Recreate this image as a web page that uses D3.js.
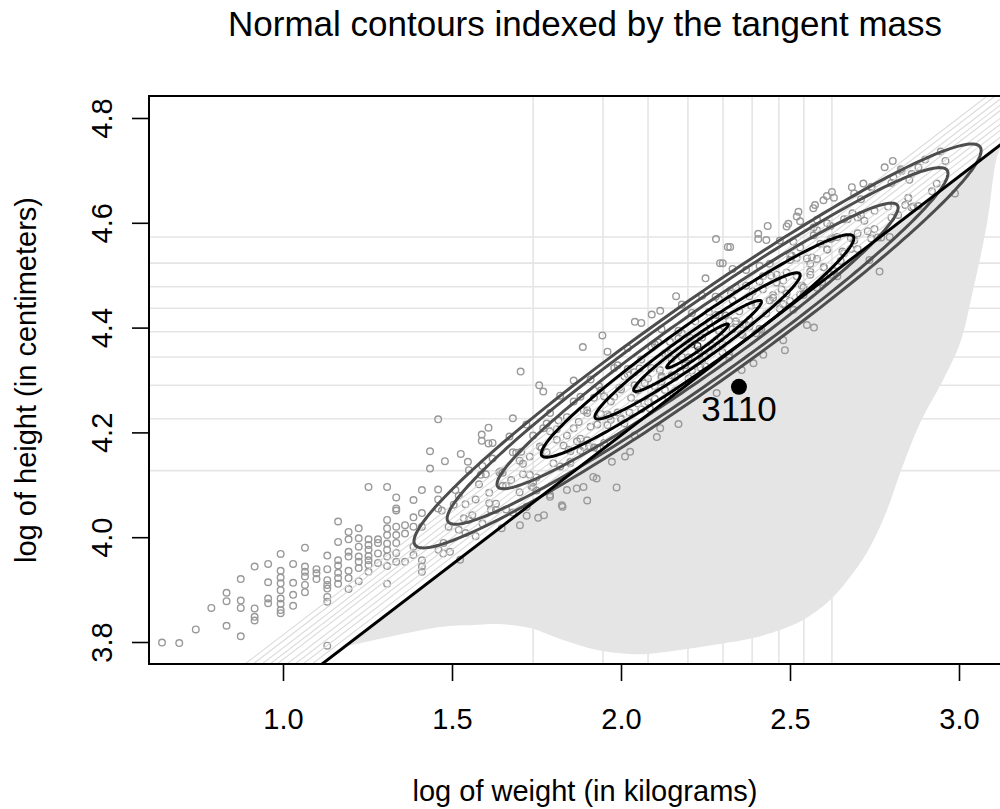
<!DOCTYPE html>
<html>
<head>
<meta charset="utf-8">
<script src="https://cdn.jsdelivr.net/npm/d3@7"></script>
<style>
  html, body { margin: 0; padding: 0; background: #fff; }
  svg { display: block; font-family: "Liberation Sans", Arial, Helvetica, sans-serif; }
</style>
</head>
<body>
<svg id="chart" width="1000" height="809"></svg>
<script>
// ---- data -------------------------------------------------------------
const xTicks = [1.0, 1.5, 2.0, 2.5, 3.0];
const yTicks = [3.8, 4.0, 4.2, 4.4, 4.6, 4.8];

// deciles of log weight and log height
const weightDeciles = [1.740, 1.947, 2.080, 2.198, 2.302, 2.388, 2.467, 2.541, 2.624];
const heightDeciles = [4.127, 4.226, 4.290, 4.344, 4.392, 4.437, 4.478, 4.523, 4.573];

// parallel lines (common slope) and the tangent line
const lineSlope = 0.4936;
const lineIntercepts = [3.3199, 3.3082, 3.2951, 3.2834, 3.2732, 3.2586, 3.2469, 3.2352, 3.2220];
const tangentIntercept = 3.2074;

// fitted bivariate normal
const normalMean = [2.2265, 4.365];
const normalSd = [0.3607, 0.1657];
const normalRho = 0.9673;
const tailMass = [0.01, 0.02, 0.05, 0.1, 0.2, 0.3, 0.4];
const contourZ = [2.326, 2.054, 1.645, 1.282, 0.842, 0.524, 0.253];
const contourColor = ["#4d4d4d", "#4d4d4d", "#4d4d4d", "#000000", "#000000", "#000000", "#000000"];

// lower edge of the shaded tangent-mass region
const massX = [1.1805, 1.4646, 1.5622, 1.6332, 1.7309, 1.8285, 1.9291, 2.0268, 2.0771, 2.1747, 2.2724, 2.3907, 2.4706, 2.5387, 2.6186, 2.6866, 2.7369, 2.7872, 2.8257, 2.8849, 2.9529, 3.0032, 3.0417, 3.0831, 3.1127, 3.1334];
const massY = [3.7905, 3.8286, 3.8324, 3.8343, 3.8267, 3.8038, 3.7847, 3.7771, 3.7771, 3.7847, 3.7943, 3.8076, 3.8229, 3.8420, 3.8801, 3.9317, 3.9813, 4.0519, 4.1225, 4.2179, 4.2999, 4.3705, 4.4716, 4.5995, 4.7254, 4.7560];

// highlighted observation
const flagged = { id: "3110", logWeight: 2.349, logHeight: 4.287 };

// observations: log weight (kg), log height (cm)
const logWeight = [
  0.642,0.693,0.742,0.788,0.833,0.833,0.833,0.875,0.875,0.875,0.875,0.916,0.916,0.916,0.916,
  0.956,0.956,0.956,0.956,0.993,0.993,0.993,0.993,0.993,0.993,0.993,0.993,0.993,
  1.030,1.030,1.030,1.030,1.065,1.065,1.065,1.065,1.065,1.065,1.099,1.099,1.099,
  1.131,1.131,1.131,1.131,1.131,1.131,1.131,1.131,1.163,1.163,1.163,1.163,1.163,1.163,1.163,
  1.194,1.194,1.194,1.194,1.194,1.194,1.194,1.224,1.224,1.224,1.224,1.224,1.224,1.224,
  1.253,1.253,1.253,1.253,1.253,1.253,1.253,1.253,1.281,1.281,1.281,1.281,
  1.308,1.308,1.308,1.308,1.308,1.308,1.308,1.308,1.308,1.335,1.335,1.335,1.335,1.335,1.335,1.335,1.335,
  1.361,1.361,1.361,1.386,1.386,1.386,1.386,1.386,1.411,1.411,1.411,1.411,1.411,1.411,
  1.435,1.435,1.459,1.459,1.459,1.459,
  1.608,1.588,1.588,1.608,1.526,1.479,1.547,1.987,1.900,1.825,1.827,1.772,1.755,1.721,1.701,1.647,
  1.494,1.474,1.460,1.524,2.106,2.116,2.170,2.283,2.027,2.012,1.973,1.918,1.928,1.869,1.889,1.840,1.790,1.721,
  2.281,2.316,2.301,2.250,2.163,2.116,2.091,2.041,1.945,1.887,1.703,1.758,
  2.804,2.946,2.828,2.880,2.853,2.806,2.934,2.988,2.717,2.742,2.683,2.624,2.609,2.599,2.574,2.569,
  2.525,2.520,2.495,2.490,2.434,2.406,2.406,2.323,2.765,2.735,2.795,2.850,2.841,2.865,
  2.571,2.550,2.485,2.480,2.421,2.392,2.357,2.293,
  1.47,1.49,1.51,1.52,1.54,1.55,1.56,1.58,1.59,1.61,1.62,1.63,1.65,1.66,1.67,1.69,1.70,1.71,1.73,1.74,
  1.75,1.76,1.78,1.79,1.80,1.81,1.83,1.84,1.85,1.86,1.87,1.88,1.89,1.90,1.91,1.92,1.93,1.94,1.95,1.96,
  1.97,1.98,1.99,2.00,2.01,2.02,2.03,2.04,2.05,2.06,2.07,2.08,2.09,2.10,2.11,2.12,2.13,2.14,2.15,2.16,
  2.17,2.18,2.19,2.20,2.21,2.22,2.23,2.24,2.25,2.26,2.27,2.28,2.29,2.30,2.31,2.32,2.33,2.34,2.35,2.36,
  2.37,2.38,2.39,2.40,2.41,2.42,2.43,2.44,2.45,2.46,2.47,2.48,2.49,2.50,2.51,2.52,2.53,2.54,2.55,2.56,
  2.57,2.58,2.59,2.60,2.61,2.62,2.63,2.64,2.66,2.67,2.68,2.70,2.71,2.73,2.75,2.77,2.79,2.82,2.85,2.88,
  1.815,1.845,1.875,1.905,1.935,1.965,1.995,2.025,2.055,2.085,2.115,2.145,2.175,2.205,2.235,2.265,
  2.295,2.325,2.355,2.385,2.415,2.445,2.475,2.505,2.535,2.565,2.595,2.625,2.655,2.685,
  1.585,1.615,1.645,1.675,1.705,1.735,1.765,1.535,1.505,1.475,
  1.62,1.68,1.72,1.77,1.82,1.86,1.91,1.96,2.02,2.06,2.12,2.18,2.24,2.33,2.37,2.43,2.47,2.53,2.58,2.63,
  2.69,2.74,2.78,2.83,2.90,2.96,2.92,1.99,2.09,2.21,2.29,2.41,2.51,2.61,2.71,2.86,
  1.57,1.63,1.68,1.74,1.79,1.85,1.90,1.95,2.00,2.04,2.10,2.15,2.20,2.26,2.32,2.38,2.44,2.50,2.56,2.62,
  2.68,2.74,2.80,2.86,1.88,2.12,2.34,2.58,2.70,
  1.52,1.54,1.57,1.59,1.61,1.64,1.66,1.68,1.71,1.73,1.75,1.77,1.79,1.82,1.84,1.86,1.88,1.90,1.92,1.94,
  1.96,1.98,2.00,2.02,2.04,2.06,2.08,2.10,2.12,2.14,2.16,2.18,2.20,2.22,2.24,2.26,2.28,2.30,2.32,2.34,
  2.36,2.38,2.40,2.42,2.44,2.46,2.48,2.50,2.52,2.54,2.56,2.58,2.60,2.62,2.64,2.66,2.69,2.72,2.76,2.80,
  1.55,1.60,1.65,1.70,1.74,1.78,1.81,1.85,1.89,1.93,1.97,2.01,2.05,2.09,2.13,2.17,2.21,2.25,2.29,2.33,
  2.37,2.41,2.45,2.49,2.53,2.57,2.61,2.65,2.70,2.75
];
const logHeight = [
  3.799,3.798,3.824,3.865,3.831,3.878,3.894,3.811,3.865,3.879,3.920,3.841,3.848,3.864,3.944,
  3.949,3.914,3.883,3.874,3.968,3.936,3.923,3.912,3.899,3.883,3.873,3.861,3.855,
  3.949,3.913,3.890,3.869,3.980,3.944,3.934,3.925,3.909,3.895,3.939,3.931,3.920,
  3.965,3.939,3.918,3.909,3.902,3.886,3.877,3.793,4.030,3.991,3.956,3.946,3.932,3.922,3.911,
  4.010,3.996,3.972,3.963,3.936,3.922,3.901,4.017,3.998,3.982,3.963,3.953,3.941,3.916,
  4.096,3.996,3.985,3.976,3.964,3.956,3.947,3.934,3.996,3.989,3.969,3.951,
  4.096,4.033,4.017,4.004,3.988,3.976,3.963,3.945,3.911,4.076,4.055,4.051,4.020,4.004,3.989,3.970,3.953,
  4.023,4.007,3.953,4.071,4.038,4.020,3.982,3.966,4.090,4.046,4.020,3.956,3.944,3.934,
  4.164,4.131,4.225,4.091,4.072,4.055,
  4.209,4.196,4.184,4.179,4.159,4.145,4.144,4.095,4.070,4.061,4.058,4.042,4.037,4.041,4.023,4.017,
  3.972,3.969,3.976,3.957,4.191,4.208,4.216,4.275,4.163,4.154,4.144,4.115,4.112,4.093,4.096,4.090,4.077,4.058,
  4.569,4.554,4.523,4.494,4.460,4.432,4.425,4.411,4.385,4.363,4.316,4.290,
  4.718,4.736,4.702,4.706,4.682,4.687,4.675,4.656,4.675,4.669,4.668,4.659,4.651,4.643,4.634,4.628,
  4.621,4.612,4.598,4.593,4.594,4.579,4.569,4.554,4.507,4.529,4.573,4.647,4.634,4.631,
  4.400,4.405,4.357,4.376,4.348,4.332,4.319,4.523,
  4.051,4.020,4.090,4.014,4.063,4.128,4.042,4.101,4.026,4.085,4.150,4.064,4.123,4.098,4.192,4.161,4.086,4.140,4.119,4.194,
  4.089,4.173,4.162,4.237,4.141,4.206,4.175,4.229,4.144,4.208,4.183,4.268,4.172,4.237,4.211,4.266,4.170,4.235,4.269,4.214,
  4.259,4.323,4.238,4.282,4.217,4.311,4.266,4.290,4.255,4.339,4.294,4.258,4.323,4.288,4.372,4.307,4.351,4.266,4.340,4.305,
  4.379,4.344,4.328,4.373,4.318,4.412,4.357,4.381,4.326,4.410,4.365,4.459,4.394,4.368,4.423,4.348,4.452,4.407,4.431,4.386,
  4.480,4.415,4.469,4.444,4.398,4.473,4.427,4.522,4.457,4.501,4.436,4.490,4.465,4.529,4.434,4.498,4.553,4.477,4.532,4.507,
  4.591,4.476,4.560,4.515,4.549,4.594,4.508,4.573,4.542,4.607,4.571,4.550,4.615,4.584,4.623,4.572,4.631,4.615,4.648,4.632,
  4.223,4.167,4.220,4.174,4.288,4.231,4.285,4.238,4.322,4.246,4.319,4.373,4.317,4.380,4.324,4.398,
  4.381,4.465,4.388,4.442,4.396,4.499,4.473,4.537,4.480,4.534,4.487,4.571,4.545,4.618,
  4.119,4.052,4.126,4.109,4.163,4.097,4.170,4.036,4.062,3.989,
  4.180,4.227,4.215,4.278,4.270,4.299,4.301,4.354,4.361,4.409,4.397,4.444,4.461,4.512,4.510,4.567,4.566,4.603,4.606,4.648,
  4.656,4.668,4.706,4.699,4.721,4.718,4.660,4.328,4.363,4.428,4.454,4.518,4.564,4.599,4.645,4.693,
  4.002,4.052,4.047,4.096,4.081,4.141,4.185,4.180,4.225,4.194,4.264,4.309,4.303,4.353,4.343,4.402,4.452,4.451,4.501,4.501,
  4.550,4.570,4.610,4.629,4.165,4.304,4.412,4.531,4.580,
  4.079,4.008,4.072,4.136,4.065,4.124,4.053,4.162,4.120,4.154,4.114,4.208,4.202,4.135,4.194,4.259,4.188,4.242,4.171,4.280,
  4.234,4.268,4.227,4.321,4.315,4.244,4.303,4.368,4.297,4.351,4.280,4.389,4.343,4.377,4.336,4.430,4.424,4.353,4.413,4.477,
  4.406,4.460,4.389,4.498,4.452,4.486,4.445,4.539,4.533,4.462,4.522,4.586,4.515,4.569,4.498,4.607,4.566,4.604,4.572,4.676,
  4.033,4.120,4.098,4.146,4.104,4.217,4.186,4.164,4.242,4.215,4.224,4.307,4.280,4.323,4.281,4.394,4.368,4.346,4.424,4.397,
  4.405,4.488,4.462,4.505,4.463,4.576,4.549,4.527,4.610,4.588
];

// ---- layout -----------------------------------------------------------
const plot = { left: 149, right: 1021, top: 96, bottom: 664 };
const fontBase = 29;

const svg = d3.select("#chart");

const x = d3.scaleLinear().domain([0.60355, 3.18343]).range([plot.left, plot.right]);
const y = d3.scaleLinear().domain([3.75802, 4.84198]).range([plot.bottom, plot.top]);

svg.append("defs").append("clipPath").attr("id", "plot-clip")
  .append("rect")
  .attr("x", plot.left).attr("y", plot.top)
  .attr("width", plot.right - plot.left).attr("height", plot.bottom - plot.top);

const g = svg.append("g").attr("clip-path", "url(#plot-clip)");

// shaded region between the tangent line and the mass curve
const massPts = massX.map((v, i) => ({ x: v, y: massY[i] }));
g.append("path")
  .datum(massPts)
  .attr("fill", "#e5e5e5")
  .attr("d", d3.area()
    .x(d => x(d.x))
    .y0(d => y(d.y))
    .y1(d => y(tangentIntercept + lineSlope * d.x))
    .curve(d3.curveCatmullRom));

// decile grid
g.selectAll(".vgrid").data(weightDeciles).join("line")
  .attr("x1", d => x(d)).attr("x2", d => x(d))
  .attr("y1", plot.top).attr("y2", plot.bottom)
  .attr("stroke", "#e5e5e5").attr("stroke-width", 1.6);
g.selectAll(".hgrid").data(heightDeciles).join("line")
  .attr("y1", d => y(d)).attr("y2", d => y(d))
  .attr("x1", plot.left).attr("x2", plot.right)
  .attr("stroke", "#e5e5e5").attr("stroke-width", 1.6);

// observations
const obs = logWeight.map((v, i) => ({ x: v, y: logHeight[i] }));
g.selectAll(".pt").data(obs).join("circle")
  .attr("cx", d => x(d.x)).attr("cy", d => y(d.y))
  .attr("r", 3.3)
  .attr("fill", "none").attr("stroke", "#999999").attr("stroke-width", 1.4);

// parallel lines
const xd = x.domain();
g.selectAll(".par").data(lineIntercepts).join("line")
  .attr("x1", x(xd[0])).attr("y1", d => y(d + lineSlope * xd[0]))
  .attr("x2", x(xd[1])).attr("y2", d => y(d + lineSlope * xd[1]))
  .attr("stroke", "#dadada").attr("stroke-width", 1.1);

// normal contours
const sx = normalSd[0], sy = normalSd[1], r = normalRho;
const s = Math.sqrt(1 - r * r);
const angles = d3.range(0, 360, 1.5).map(a => a * Math.PI / 180);
const ellipse = z => angles.map(t => [
  normalMean[0] + z * sx * Math.cos(t),
  normalMean[1] + z * sy * (r * Math.cos(t) + s * Math.sin(t))
]);
const ellLine = d3.line().x(d => x(d[0])).y(d => y(d[1])).curve(d3.curveLinearClosed);
g.selectAll(".contour").data(contourZ).join("path")
  .attr("d", z => ellLine(ellipse(z)))
  .attr("fill", "none")
  .attr("stroke", (z, i) => contourColor[i])
  .attr("stroke-width", 3);

// centre of the fitted normal
g.append("circle")
  .attr("cx", x(normalMean[0])).attr("cy", y(normalMean[1]))
  .attr("r", 3.3).attr("fill", "none").attr("stroke", "#333").attr("stroke-width", 1.4);

// tangent line
g.append("line")
  .attr("x1", x(xd[0])).attr("y1", y(tangentIntercept + lineSlope * xd[0]))
  .attr("x2", x(xd[1])).attr("y2", y(tangentIntercept + lineSlope * xd[1]))
  .attr("stroke", "#000").attr("stroke-width", 3);

// flagged observation
g.append("circle")
  .attr("cx", x(flagged.logWeight)).attr("cy", y(flagged.logHeight))
  .attr("r", 8).attr("fill", "#000");
svg.append("text")
  .attr("x", x(flagged.logWeight)).attr("y", y(flagged.logHeight) + 34)
  .attr("text-anchor", "middle")
  .attr("font-size", 35)
  .text(flagged.id);

// ---- axes -------------------------------------------------------------
const xAxis = svg.append("g")
  .attr("transform", `translate(0,${plot.bottom})`)
  .call(d3.axisBottom(x).tickValues(xTicks).tickFormat(d3.format(".1f"))
    .tickSize(17).tickSizeOuter(0).tickPadding(27));
xAxis.select(".domain").remove();
xAxis.selectAll(".tick line").attr("stroke", "#000").attr("stroke-width", 1.6);
xAxis.selectAll(".tick text").attr("font-size", fontBase).attr("fill", "#000")
  .attr("font-family", "Liberation Sans, Arial, sans-serif");

const yAxis = svg.append("g")
  .attr("transform", `translate(${plot.left},0)`)
  .call(d3.axisLeft(y).tickValues(yTicks).tickFormat(d3.format(".1f"))
    .tickSize(17).tickSizeOuter(0));
yAxis.select(".domain").remove();
yAxis.selectAll(".tick line").attr("stroke", "#000").attr("stroke-width", 1.6);
yAxis.selectAll(".tick text")
  .attr("font-size", fontBase).attr("fill", "#000")
  .attr("font-family", "Liberation Sans, Arial, sans-serif")
  .attr("text-anchor", "middle")
  .attr("transform", "rotate(-90)")
  .attr("x", 0).attr("dy", 0)
  .attr("y", -37);

// plot box
svg.append("rect")
  .attr("x", plot.left).attr("y", plot.top)
  .attr("width", plot.right - plot.left).attr("height", plot.bottom - plot.top)
  .attr("fill", "none").attr("stroke", "#000").attr("stroke-width", 2);

// ---- titles -----------------------------------------------------------
const midX = (plot.left + plot.right) / 2;
svg.append("text")
  .attr("x", midX).attr("y", 36)
  .attr("text-anchor", "middle").attr("font-size", 35)
  .text("Normal contours indexed by the tangent mass");
svg.append("text")
  .attr("x", midX).attr("y", 801)
  .attr("text-anchor", "middle").attr("font-size", fontBase)
  .text("log of weight (in kilograms)");
svg.append("text")
  .attr("transform", `translate(36,${(plot.top + plot.bottom) / 2}) rotate(-90)`)
  .attr("text-anchor", "middle").attr("font-size", fontBase)
  .text("log of height (in centimeters)");
</script>
</body>
</html>
